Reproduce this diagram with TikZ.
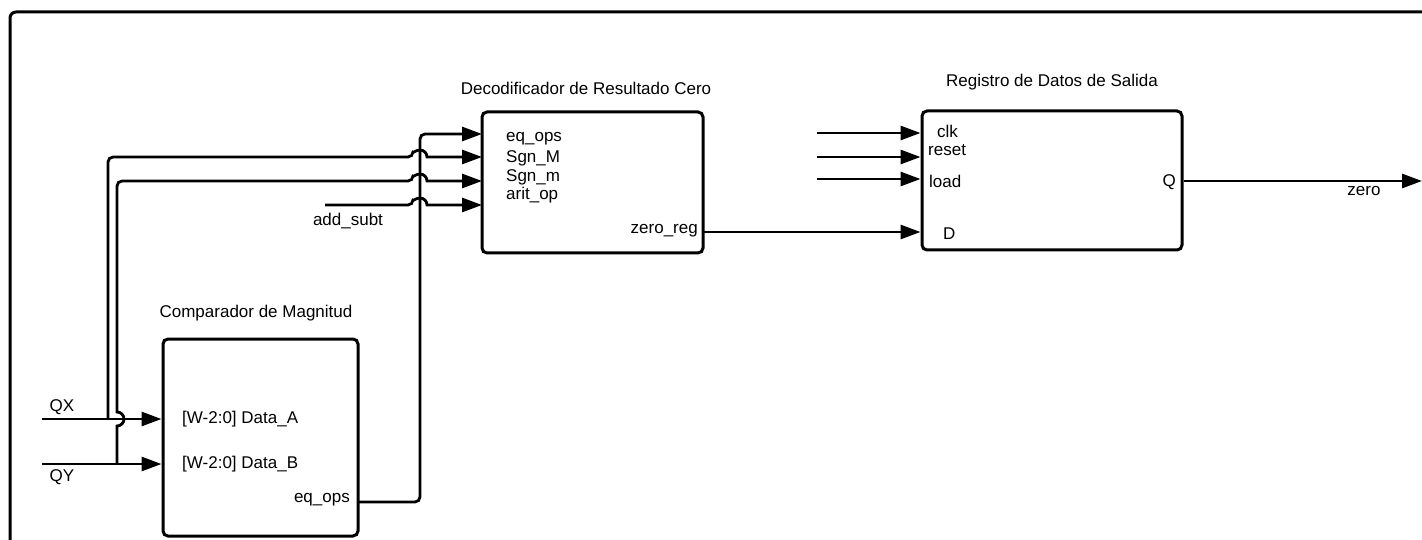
\documentclass[tikz,border=0pt]{standalone}
\usepackage{fontspec}
\setmainfont{Liberation Sans}
\usetikzlibrary{arrows.meta,positioning,calc}

\begin{document}
\begin{tikzpicture}[x=1pt, y=-1pt,
    blk/.style={draw, line width=3pt, rounded corners=5pt, inner sep=0pt},
    wire/.style={line width=2.8pt, rounded corners=5pt},
    arr/.style={wire, -{Triangle[length=20pt,width=14pt]}},
    port/.style={font=\fontsize{17}{20}\selectfont, inner sep=0pt},
    ttl/.style={font=\fontsize{17}{20}\selectfont, inner sep=0pt}]

    \useasboundingbox (0,0) rectangle (1422,540);

    % outer frame
    \draw[line width=3pt, rounded corners=6pt] (1422,12) -- (10,12) -- (10,540);

    % comparador de magnitud
    \node[blk, minimum width=195pt, minimum height=197pt] (comp) at (260.5,437.5) {};
    \node[ttl] (compT) at (256,313) {Comparador de Magnitud};
    \node[port, anchor=west] (cA) at (182,419) {[W-2:0] Data\_A};
    \node[port, anchor=west] (cB) at (182,464) {[W-2:0] Data\_B};
    \node[port, anchor=east] (cEq) at (350,500) {eq\_ops};
    \coordinate (cEqO) at (358,502);

    \coordinate (qx) at (42,419);
    \coordinate (qy) at (42,464);
    \coordinate (jx) at (108,419);
    \coordinate (jy) at (117,464);
    \node[port] (qxL) at (62,407) {QX};
    \node[port] (qyL) at (62,477) {QY};
    \draw[arr] (qx) -- (comp.west |- qx);
    \draw[arr] (qy) -- (comp.west |- qy);

    % decodificador de resultado cero
    \node[blk, minimum width=221pt, minimum height=141pt] (deco) at (592.5,182.5) {};
    \node[ttl] (decoT) at (586,88) {Decodificador de Resultado Cero};
    \node[port, anchor=west] (dEqL) at (506,139) {eq\_ops};
    \node[port, anchor=west] (dSML) at (506,158) {Sgn\_M};
    \node[port, anchor=west] (dSmL) at (506,177) {Sgn\_m};
    \node[port, anchor=west] (dArL) at (506,195) {arit\_op};
    \node[port, anchor=east] (dZL) at (698,231) {zero\_reg};
    \coordinate (dEq) at (482,134);
    \coordinate (dSM) at (482,157);
    \coordinate (dSm) at (482,181);
    \coordinate (dAr) at (482,205);
    \coordinate (dZ) at (703,232);

    \coordinate (as) at (325,205);
    \node[port] (asL) at (348,221) {add\_subt};

    \draw[arr] (cEqO) -- (420,502) -- (420,134) -- (dEq);
    \draw[arr] (jx) -- (108,157) -- (413,157) [sharp corners]
        arc[start angle=180, end angle=360, radius=7] -- (dSM);
    \draw[arr] (jy) [sharp corners] -- (117,426) arc[start angle=90, end angle=-90, radius=7]
        [rounded corners=5pt] -- (117,181) -- (413,181) [sharp corners]
        arc[start angle=180, end angle=360, radius=7] -- (dSm);
    \draw[arr] (as) -- (413,205) [sharp corners]
        arc[start angle=180, end angle=360, radius=7] -- (dAr);

    % registro de datos de salida
    \node[blk, minimum width=260pt, minimum height=139pt] (reg) at (1052,180.5) {};
    \node[ttl] (regT) at (1052,82) {Registro de Datos de Salida};
    \node[port, anchor=west] (rClk) at (937,131) {clk};
    \node[port, anchor=west] (rRst) at (928,150) {reset};
    \node[port, anchor=west] (rLd) at (929,181) {load};
    \node[port, anchor=west] (rD) at (943,234) {D};
    \node[port, anchor=east] (rQ) at (1176,182) {Q};

    \coordinate (iClk) at (817,133);
    \coordinate (iRst) at (817,157);
    \coordinate (iLd) at (817,179);
    \coordinate (oZ) at (1422,181);
    \draw[arr] (iClk) -- (reg.west |- iClk);
    \draw[arr] (iRst) -- (reg.west |- iRst);
    \draw[arr] (iLd) -- (reg.west |- iLd);
    \draw[arr] (dZ) -- (reg.west |- dZ);
    \draw[arr] (reg.east |- oZ) -- (oZ);
    \node[port] (zL) at (1364,191) {zero};
\end{tikzpicture}
\end{document}
